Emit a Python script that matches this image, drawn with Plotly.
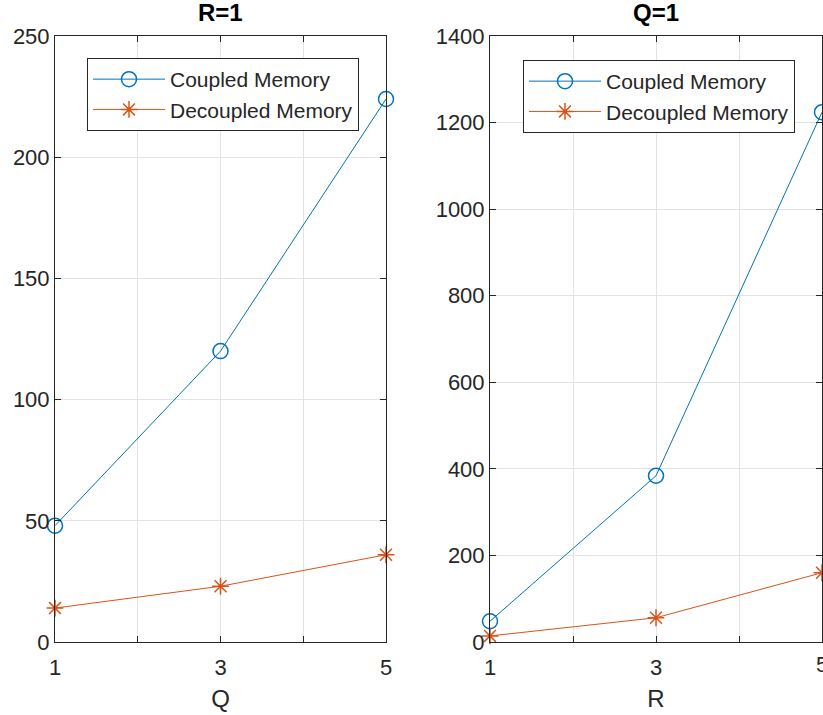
import plotly.graph_objects as go

x_vals = [1, 3, 5]
left_coupled = [48, 120, 224]
left_decoupled = [14, 23, 36]
right_coupled = [48, 384, 1224]
right_decoupled = [14, 56, 160]

x_tickvals = [1, 2, 3, 4, 5]
x_ticktext = ["1", "", "3", "", "5"]
left_yticks = [0, 50, 100, 150, 200, 250]
right_yticks = [0, 200, 400, 600, 800, 1000, 1200, 1400]

BLUE = "#0072BD"
ORANGE = "#D95319"
FONT = "Liberation Sans, Arial, Helvetica, sans-serif"
W, H = 823, 715

fig = go.Figure()

def add_series(xa, ya, yc, yd, legend):
    fig.add_trace(go.Scatter(x=x_vals, y=yc, name="Coupled Memory", mode="lines+markers",
                             line=dict(color=BLUE, width=1),
                             marker=dict(symbol="circle-open", size=15, color=BLUE, line=dict(width=1.5)),
                             xaxis=xa, yaxis=ya, legend=legend, cliponaxis=False))
    fig.add_trace(go.Scatter(x=x_vals, y=yd, name="Decoupled Memory", mode="lines+markers",
                             line=dict(color=ORANGE, width=1),
                             marker=dict(symbol="asterisk-open", size=14, color=ORANGE, line=dict(width=1.5, color=ORANGE)),
                             xaxis=xa, yaxis=ya, legend=legend, cliponaxis=False))

add_series("x", "y", left_coupled, left_decoupled, "legend")
add_series("x2", "y2", right_coupled, right_decoupled, "legend2")

ydom = [1 - 642 / H, 1 - 36 / H]
axis_common = dict(showline=True, linecolor="#262626", linewidth=1, mirror="ticks",
                   ticks="inside", ticklen=6, tickcolor="#262626", automargin=False,
                   showgrid=True, gridcolor="#e3e3e3", gridwidth=1, zeroline=False,
                   tickfont=dict(family=FONT, size=22, color="#262626"))

fig.update_layout(
    width=W, height=H, margin=dict(l=0, r=0, t=0, b=0, autoexpand=False),
    paper_bgcolor="white", plot_bgcolor="white",
    font=dict(family=FONT, color="#262626"),
    xaxis=dict(domain=[55 / W, 386 / W], range=[1, 5], tickvals=x_tickvals, ticktext=x_ticktext,
               title=dict(text="Q", font=dict(family=FONT, size=24, color="#262626"), standoff=10),
               ticklabelstandoff=6, anchor="y", **axis_common),
    yaxis=dict(domain=ydom, range=[0, 250], tickvals=left_yticks, anchor="x", **axis_common),
    xaxis2=dict(domain=[490 / W, 822 / W], range=[1, 5], tickvals=x_tickvals, ticktext=x_ticktext,
                title=dict(text="R", font=dict(family=FONT, size=24, color="#262626"), standoff=10),
                ticklabelstandoff=6, anchor="y2", **axis_common),
    yaxis2=dict(domain=ydom, range=[0, 1400], tickvals=right_yticks, anchor="x2", **axis_common),
    legend=dict(x=87 / W, y=1 - 58 / H, xanchor="left", yanchor="top",
                bgcolor="white", bordercolor="#262626", borderwidth=1,
                font=dict(family=FONT, size=21, color="#262626"), tracegroupgap=0, itemwidth=72),
    legend2=dict(x=523 / W, y=1 - 60 / H, xanchor="left", yanchor="top",
                 bgcolor="white", bordercolor="#262626", borderwidth=1,
                 font=dict(family=FONT, size=21, color="#262626"), tracegroupgap=0, itemwidth=72),
    annotations=[
        dict(text="<b>R=1</b>", x=220 / W, y=1 - 12 / H, xref="paper", yref="paper",
             xanchor="center", yanchor="middle",
             showarrow=False, font=dict(family=FONT, size=24, color="#000000")),
        dict(text="<b>Q=1</b>", x=656 / W, y=1 - 12 / H, xref="paper", yref="paper",
             xanchor="center", yanchor="middle",
             showarrow=False, font=dict(family=FONT, size=24, color="#000000")),
        # right-most x tick label of the right panel, which Plotly hides because it overflows the page
        dict(text=x_ticktext[-1], x=x_tickvals[-1], y=0, xref="x2", yref="y2",
             xanchor="center", yanchor="top", yshift=-8, showarrow=False,
             font=dict(family=FONT, size=22, color="#262626")),
    ],
)

fig.write_html("out.html")
